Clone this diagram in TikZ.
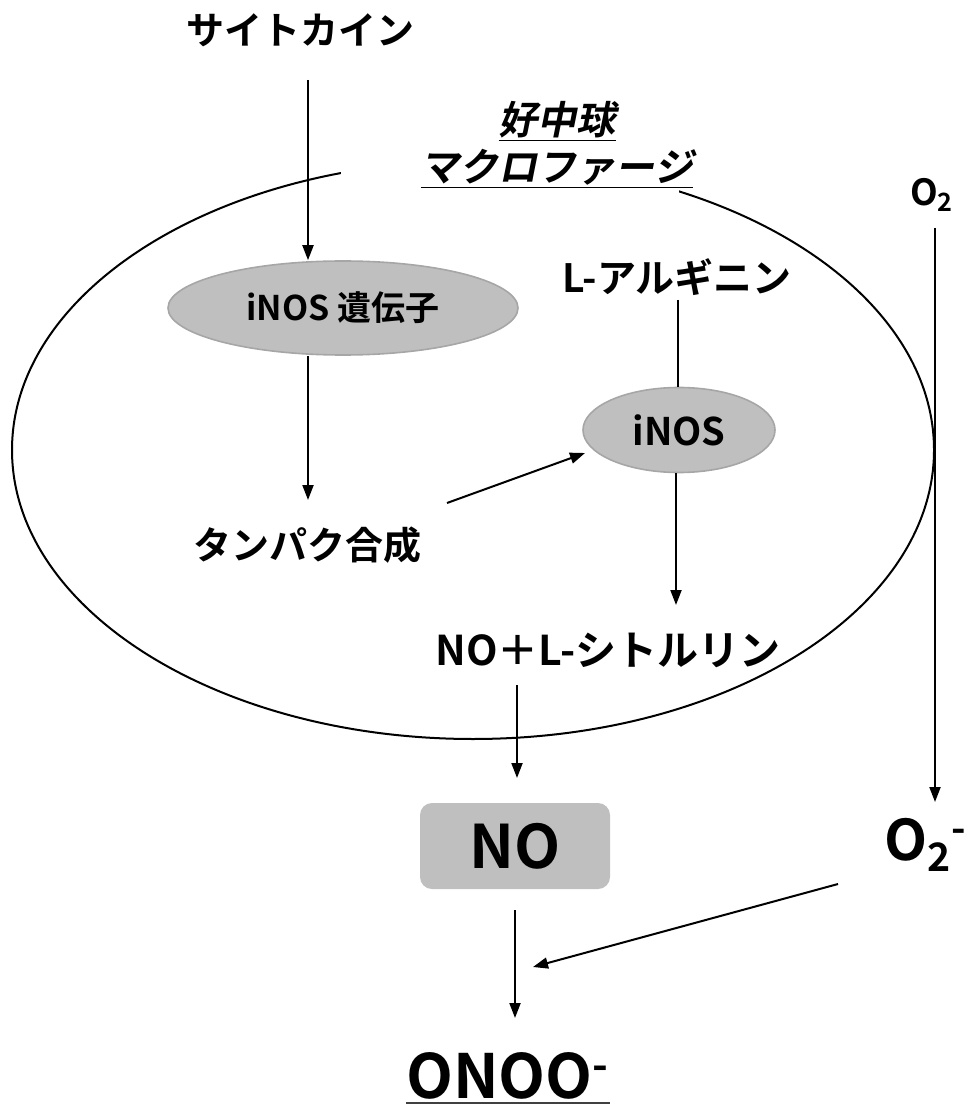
\documentclass[tikz,border=0pt]{standalone}
\usepackage{fontspec}
\setmainfont{Noto Sans CJK JP}[BoldFont={* Bold}]
\newfontfamily\jpsl{Noto Sans CJK JP}[UprightFont={* Bold},FakeSlant=0.2]
\usetikzlibrary{arrows.meta,shapes.geometric}
\definecolor{gfill}{HTML}{BFBFBF}
\definecolor{gline}{HTML}{A6A6A6}
\begin{document}
\begin{tikzpicture}[x=0.5pt,y=-0.5pt,
  arr/.style={line width=1pt,-{Triangle[length=7.5pt,width=5.5pt]}},
  ln/.style={line width=1pt},
  txt/.style={inner sep=0pt,font=\bfseries\fontsize{19pt}{22pt}\selectfont},
  enz/.style={ellipse,fill=gfill,draw=gline,line width=0.8pt,inner sep=0pt},
]
\useasboundingbox (0,0) rectangle (973,1106);
% cell
\draw[line width=1pt] (473,450) ellipse [x radius=461, y radius=289];
\fill[white] (341,150) rectangle (679,200);
\node[inner sep=0pt,align=center,font=\jpsl\fontsize{19.5pt}{23.5pt}\selectfont] (cell) at (557,145) {\underline{好中球}\\\underline{マクロファージ}};
% nodes
\node[txt] (cyt) at (300,30) {サイトカイン};
\node[enz,minimum width=175pt,minimum height=47pt,font=\bfseries\fontsize{17pt}{20pt}\selectfont] (gene) at (343,308) {iNOS 遺伝子};
\node[enz,minimum width=96pt,minimum height=42.5pt,font=\bfseries\fontsize{19pt}{22pt}\selectfont] (inos) at (679,430) {iNOS};
\node[txt,font=\bfseries\fontsize{19.5pt}{22pt}\selectfont] (larg) at (677,277) {L-アルギニン};
\node[txt] (prot) at (307,545) {タンパク合成};
\node[txt,font=\bfseries\fontsize{20.5pt}{24pt}\selectfont] (nocit) at (608,650) {NO＋L-シトルリン};
\node[rounded corners=6pt,fill=gfill,minimum width=95pt,minimum height=43pt,inner sep=0pt,font=\bfseries\fontsize{30pt}{34pt}\selectfont] (no) at (515,846) {NO};
\node[inner sep=0pt,font=\bfseries\fontsize{30.5pt}{36pt}\selectfont] (onoo) at (508,1076) {ONOO\textsuperscript{-}};
\coordinate (ul) at (0,1103);
\draw[line width=0.7pt,black!75] (onoo.west |- ul) -- (onoo.east |- ul);
\node[inner sep=0pt,font=\bfseries\fontsize{18pt}{21pt}\selectfont] (o2) at (932,195) {O\textsubscript{2}};
\node[inner sep=0pt,font=\bfseries\fontsize{28pt}{32pt}\selectfont] (o2m) at (926,845) {O\textsubscript{2}\textsuperscript{-}};
% connectors
\coordinate (a1) at (308,80);
\coordinate (a2) at (308,500);
\draw[arr] (a1) -- (a1 |- gene.north);
\draw[arr] (a2 |- gene.south) -- (a2);
\coordinate (p1) at (447,503);
\coordinate (p2) at (585,453);
\draw[arr] (p1) -- (p2);
\coordinate (l1) at (678,300);
\draw[ln] (l1) -- (l1 |- inos.north);
\coordinate (a3) at (676,605);
\draw[arr] (a3 |- inos.south) -- (a3);
\coordinate (n1) at (517,685);
\coordinate (n2) at (517,778);
\draw[arr] (n1) -- (n2);
\coordinate (m1) at (515,910);
\coordinate (m2) at (515,1018);
\draw[arr] (m1) -- (m2);
\coordinate (o1) at (935,228);
\coordinate (o3) at (935,802);
\draw[arr] (o1) -- (o3);
\coordinate (s1) at (838,884);
\coordinate (s2) at (533,967);
\draw[arr] (s1) -- (s2);
\end{tikzpicture}
\end{document}
